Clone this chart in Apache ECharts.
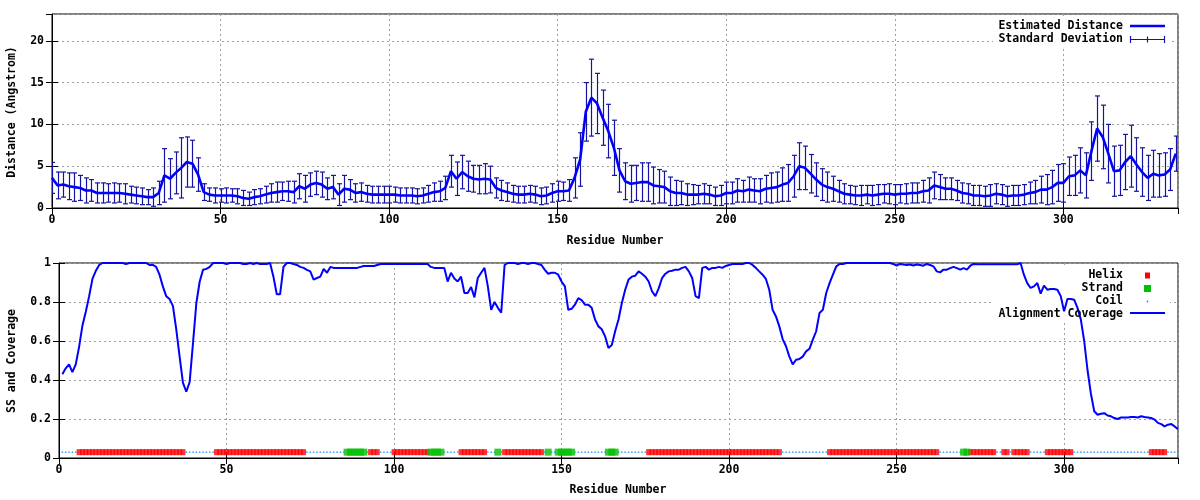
<!DOCTYPE html>
<html><head><meta charset="utf-8">
<script src="https://cdn.jsdelivr.net/npm/echarts@6/dist/echarts.min.js"></script>
<style>html,body{margin:0;padding:0;background:#fff}#c{width:1200px;height:500px}</style>
</head><body><div id="c"></div>
<script>
// ---- Top panel: estimated distance and its standard deviation (one sample every 5/3 residue) ----
const sampleStep = 5 / 3;
const distMean = [
  3.6,2.7,2.8,2.6,2.5,2.4,2.1,2.1,1.8,1.8,
  1.8,1.8,1.8,1.7,1.6,1.5,1.4,1.3,1.3,1.8,
  3.9,3.5,4.2,4.8,5.5,5.3,4.0,1.9,1.6,1.5,
  1.5,1.5,1.5,1.4,1.2,1.1,1.3,1.4,1.6,1.8,
  1.9,2.0,2.0,1.9,2.6,2.3,2.8,3.0,2.8,2.3,
  2.5,1.6,2.3,2.2,1.8,1.9,1.7,1.6,1.6,1.6,
  1.6,1.6,1.5,1.5,1.5,1.4,1.5,1.7,1.9,2.0,
  2.4,4.4,3.5,4.3,3.8,3.5,3.4,3.5,3.4,2.4,
  2.1,1.9,1.7,1.6,1.6,1.7,1.6,1.4,1.5,1.8,
  2.0,2.0,2.1,3.6,5.8,11.5,13.2,12.5,10.8,9.2,
  7.2,4.5,3.2,2.9,3.0,3.1,3.1,2.7,2.6,2.5,
  2.0,1.8,1.8,1.6,1.6,1.6,1.7,1.6,1.4,1.5,
  1.8,1.8,2.1,2.0,2.2,2.1,2.0,2.3,2.4,2.5,
  2.8,3.0,3.8,5.0,4.8,4.1,3.4,2.8,2.5,2.3,
  2.0,1.7,1.6,1.5,1.5,1.6,1.5,1.6,1.7,1.7,
  1.6,1.7,1.7,1.8,1.8,2.0,2.1,2.7,2.5,2.3,
  2.3,2.1,1.8,1.7,1.5,1.5,1.4,1.5,1.7,1.6,
  1.4,1.5,1.5,1.6,1.8,1.9,2.2,2.2,2.5,3.0,
  3.0,3.8,3.9,4.5,3.9,6.8,9.5,8.5,6.5,4.4,
  4.5,5.5,6.2,5.2,4.3,3.6,4.1,3.9,4.0,4.6,
  6.5
];
const distSD = [
  1.85,1.6,1.5,1.6,1.7,1.5,1.5,1.3,1.2,1.2,
  1.1,1.2,1.1,1.2,1.0,1.0,1.0,0.9,1.1,1.4,
  3.2,2.4,2.5,3.6,3.0,2.8,2.0,1.0,0.8,0.9,
  0.8,0.9,0.8,0.9,0.9,0.8,0.9,0.9,1.0,1.1,
  1.2,1.1,1.2,1.3,1.5,1.6,1.4,1.4,1.5,1.3,
  1.4,1.3,1.6,1.2,1.1,1.1,1.0,1.0,1.0,1.0,
  1.0,0.9,0.9,0.9,0.9,0.9,0.9,1.0,1.1,1.2,
  1.4,1.9,2.0,2.0,1.8,1.6,1.7,1.8,1.6,1.2,
  1.2,1.1,1.0,1.0,1.0,1.0,1.0,1.0,1.0,1.1,
  1.2,1.1,1.3,2.4,3.2,3.5,4.6,3.6,3.3,3.2,
  3.3,2.6,2.2,2.2,2.1,2.3,2.3,2.2,2.0,1.9,
  1.7,1.5,1.4,1.3,1.2,1.1,1.2,1.1,1.1,1.2,
  1.3,1.3,1.4,1.3,1.5,1.4,1.5,1.6,1.8,1.8,
  2.0,2.2,2.5,2.8,2.6,2.3,2.0,1.9,1.8,1.5,
  1.3,1.2,1.1,1.1,1.2,1.1,1.2,1.2,1.1,1.2,
  1.2,1.1,1.2,1.2,1.2,1.3,1.5,1.6,1.5,1.3,
  1.3,1.2,1.2,1.2,1.2,1.2,1.2,1.3,1.2,1.2,
  1.2,1.2,1.2,1.2,1.3,1.4,1.6,1.8,2.0,2.2,
  2.3,2.3,2.4,2.7,2.7,3.5,3.9,3.8,3.5,3.0,
  3.0,3.3,3.7,3.2,2.9,2.7,2.8,2.6,2.6,2.5,
  2.1
];

// ---- Bottom panel: alignment coverage per residue (residues 1..334) ----
const coverage = [
  0.43,0.46,0.48,0.44,0.48,0.57,0.68,0.75,0.83,0.92,
  0.96,0.99,1,1,1,1,1,1,1,0.995,
  1,1,1,1,1,1,0.99,0.99,0.98,0.94,
  0.88,0.83,0.815,0.78,0.66,0.52,0.385,0.34,0.39,0.59,
  0.795,0.905,0.965,0.97,0.98,1,1,1,1,0.995,
  1,1,1,1,0.995,0.995,1,0.995,1,0.995,
  0.995,0.995,1,0.93,0.84,0.84,0.98,1,1,0.995,
  0.99,0.98,0.975,0.965,0.957,0.915,0.923,0.93,0.97,0.95,
  0.98,0.975,0.975,0.975,0.975,0.975,0.975,0.975,0.975,0.98,
  0.985,0.985,0.985,0.985,0.99,0.995,0.995,0.995,0.995,0.995,
  0.995,0.995,0.995,0.995,0.995,0.995,0.995,0.995,0.995,0.995,
  0.98,0.975,0.975,0.975,0.975,0.905,0.95,0.92,0.905,0.93,
  0.846,0.846,0.877,0.824,0.923,0.95,0.975,0.88,0.76,0.80,
  0.77,0.745,0.99,1,1,1,0.995,1,1,0.995,
  1,1,0.995,0.99,0.965,0.945,0.95,0.95,0.94,0.905,
  0.88,0.76,0.765,0.786,0.82,0.81,0.786,0.786,0.77,0.71,
  0.675,0.66,0.624,0.564,0.58,0.65,0.71,0.795,0.863,0.915,
  0.93,0.935,0.957,0.945,0.93,0.905,0.855,0.83,0.87,0.923,
  0.945,0.957,0.96,0.966,0.966,0.975,0.98,0.957,0.923,0.83,
  0.82,0.975,0.98,0.966,0.975,0.975,0.98,0.975,0.985,0.99,
  0.995,0.995,0.995,0.995,1,1,0.99,0.975,0.957,0.94,
  0.918,0.863,0.76,0.726,0.675,0.61,0.573,0.52,0.48,0.504,
  0.508,0.52,0.547,0.56,0.607,0.65,0.744,0.76,0.846,0.897,
  0.94,0.983,0.995,0.995,1,1,1,1,1,1,
  1,1,1,1,1,1,1,1,0.995,0.986,
  0.995,0.992,0.99,0.992,0.987,0.992,0.99,0.986,0.995,0.99,
  0.983,0.957,0.952,0.966,0.966,0.974,0.98,0.974,0.966,0.974,
  0.966,0.986,0.995,0.993,0.993,0.993,0.993,0.993,0.993,0.993,
  0.993,0.993,0.993,0.993,0.993,0.993,1,0.94,0.897,0.872,
  0.88,0.897,0.843,0.884,0.863,0.867,0.867,0.863,0.83,0.752,
  0.815,0.815,0.812,0.77,0.71,0.6,0.45,0.33,0.24,0.222,
  0.227,0.23,0.218,0.214,0.205,0.2,0.208,0.208,0.208,0.21,
  0.21,0.208,0.214,0.21,0.208,0.205,0.197,0.18,0.174,0.162,
  0.171,0.174,0.162,0.148
];

// Secondary structure (residue ranges); everything else from ssFirst..ssLast is coil
const ssFirst = 1, ssLast = 333;
const ssLevel = 0.03;
const helixRanges = [[6,37],[47,73],[93,95],[100,110],[120,127],[133,144],[176,215],
  [230,262],[272,279],[282,283],[285,289],[295,302],[326,330]];
const strandRanges = [[86,91],[111,114],[131,131],[146,146],[149,153],[164,166],[270,271]];

// axis ranges / ticks
const xMax = 334, xTickStep = 50;
const distMax = 23.2, distTickStep = 5;
const covTickStep = 0.2;

// ---------------- build ----------------
const inRanges = (r, rs) => rs.some(([a, b]) => r >= a && r <= b);
const helixPts = [], strandPts = [], coilPts = [];
for (let r = ssFirst; r <= ssLast; r++) {
  if (inRanges(r, helixRanges)) helixPts.push([r, ssLevel]);
  else if (inRanges(r, strandRanges)) strandPts.push([r, ssLevel]);
  else coilPts.push([r, ssLevel]);
}
const distX = distMean.map((_, i) => +(i * sampleStep).toFixed(3));
const meanData = distMean.map((v, i) => [distX[i], v]);
const errData = distMean.map((v, i) => [distX[i], Math.max(0, v - distSD[i]), v + distSD[i]]);
const covData = coverage.map((v, i) => [i + 1, v]);

const FONT = '"DejaVu Sans Mono", "Liberation Mono", monospace';
const lab = { fontFamily: FONT, fontWeight: 'bold', fontSize: 11.5, color: '#000' };
const gridLine = { show: true, lineStyle: { color: '#a0a0a0', type: [2, 3], width: 1 } };
const ERR = '#1414a0', BLUE = '#0000ff';

function xAx(grid, pos, main) {
  return {
    type: 'value', gridIndex: grid, position: pos, min: 0, max: xMax, interval: xTickStep,
    axisLine: { show: main, lineStyle: { color: '#000', width: 1 } },
    axisTick: { show: true, inside: true, length: 6, lineStyle: { color: '#000' } },
    axisLabel: main ? Object.assign({ margin: 6, showMaxLabel: false }, lab) : { show: false },
    splitLine: main ? gridLine : { show: false }
  };
}
function yAx(grid, pos, main, max, step, fmt) {
  return {
    type: 'value', gridIndex: grid, position: pos, min: 0, max: max, interval: step,
    axisLine: { show: main, lineStyle: { color: '#000', width: 1 } },
    axisTick: { show: true, inside: true, length: 6, lineStyle: { color: '#000' } },
    axisLabel: main ? Object.assign({ margin: 8, formatter: fmt, showMaxLabel: max !== 1 ? false : true }, lab) : { show: false },
    splitLine: main ? gridLine : { show: false }
  };
}

function renderErr(params, api) {
  const x = api.value(0), lo = api.value(1), hi = api.value(2);
  const pLo = api.coord([x, lo]), pHi = api.coord([x, hi]);
  const cx = Math.round(pLo[0]) + 0.5, w = 2.5;
  const style = { stroke: ERR, lineWidth: 1.2 };
  return { type: 'group', children: [
    { type: 'line', shape: { x1: cx, y1: pLo[1], x2: cx, y2: pHi[1] }, style },
    { type: 'line', shape: { x1: cx - w, y1: pHi[1], x2: cx + w, y2: pHi[1] }, style },
    { type: 'line', shape: { x1: cx - w, y1: pLo[1], x2: cx + w, y2: pLo[1] }, style }
  ]};
}

const tStyle = (text, align) => ({ text, font: 'bold 11.5px ' + FONT, fill: '#000',
  align: align, textAlign: align, verticalAlign: 'middle', textVerticalAlign: 'middle' });
const txt = (text, x, y, align, rot) => ({ type: 'text', x, y, rotation: rot || 0, z: 5, style: tStyle(text, align) });
const ln = (x1, y1, x2, y2, color, w) => ({ type: 'line', z: 5, shape: { x1, y1, x2, y2 }, style: { stroke: color, lineWidth: w } });

const chart = echarts.init(document.getElementById('c'), null, { renderer: 'canvas' });
chart.setOption({
  animation: false,
  backgroundColor: '#fff',
  grid: [
    { left: 52, right: 22, top: 14, height: 194, show: true, borderColor: '#000', borderWidth: 1 },
    { left: 59, right: 22, top: 263, height: 195, show: true, borderColor: '#000', borderWidth: 1 }
  ],
  xAxis: [ xAx(0, 'bottom', true), xAx(1, 'bottom', true), xAx(0, 'top', false), xAx(1, 'top', false) ],
  yAxis: [
    yAx(0, 'left', true, distMax, distTickStep, v => String(v)),
    yAx(1, 'left', true, 1, covTickStep, v => (v === 0 ? '0' : v === 1 ? '1' : v.toFixed(1))),
    yAx(0, 'right', false, distMax, distTickStep),
    yAx(1, 'right', false, 1, covTickStep)
  ],
  series: [
    { name: 'Standard Deviation', type: 'custom', xAxisIndex: 0, yAxisIndex: 0, renderItem: renderErr,
      data: errData, encode: { x: 0, y: [1, 2] }, clip: true, z: 2 },
    { name: 'Estimated Distance', type: 'line', xAxisIndex: 0, yAxisIndex: 0, data: meanData,
      showSymbol: false, symbol: 'none', lineStyle: { color: BLUE, width: 2.6 }, z: 3 },
    { name: 'Coil', type: 'scatter', xAxisIndex: 1, yAxisIndex: 1, data: coilPts,
      symbol: 'circle', symbolSize: 1.8, itemStyle: { color: '#1e90ff' }, z: 3 },
    { name: 'Helix', type: 'scatter', xAxisIndex: 1, yAxisIndex: 1, data: helixPts,
      symbol: 'rect', symbolSize: [5, 6], itemStyle: { color: '#ff0000' }, z: 3 },
    { name: 'Strand', type: 'scatter', xAxisIndex: 1, yAxisIndex: 1, data: strandPts,
      symbol: 'rect', symbolSize: [7, 7], itemStyle: { color: '#00c000' }, z: 3 },
    { name: 'Alignment Coverage', type: 'line', xAxisIndex: 1, yAxisIndex: 1, data: covData,
      showSymbol: false, symbol: 'none', lineStyle: { color: BLUE, width: 2 }, z: 4 }
  ],
  graphic: { elements: [
    // key backgrounds (opaque over grid)
    { type: 'rect', z: 1, shape: { x: 993, y: 19, width: 177, height: 27 }, style: { fill: '#fff' } },
    { type: 'rect', z: 1, shape: { x: 993, y: 268, width: 177, height: 52 }, style: { fill: '#fff' } },
    // axis titles
    txt('Distance (Angstrom)', 12, 112, 'center', Math.PI / 2),
    txt('Residue Number', 615, 241, 'center'),
    txt('SS and Coverage', 12, 361, 'center', Math.PI / 2),
    txt('Residue Number', 618, 490, 'center'),
    // top key
    txt('Estimated Distance', 1123, 26, 'right'),
    ln(1130, 26, 1165, 26, BLUE, 2.6),
    txt('Standard Deviation', 1123, 39, 'right'),
    ln(1130, 39.5, 1165, 39.5, ERR, 1.2),
    ln(1130.5, 36, 1130.5, 43, ERR, 1.2),
    ln(1164.5, 36, 1164.5, 43, ERR, 1.2),
    ln(1147.5, 36.5, 1147.5, 42.5, ERR, 1.2),
    // bottom key
    txt('Helix', 1123, 275.5, 'right'),
    { type: 'rect', z: 5, shape: { x: 1145, y: 272.5, width: 5, height: 6 }, style: { fill: '#ff0000' } },
    txt('Strand', 1123, 288.5, 'right'),
    { type: 'rect', z: 5, shape: { x: 1144, y: 285, width: 7, height: 7 }, style: { fill: '#00c000' } },
    txt('Coil', 1123, 301.5, 'right'),
    { type: 'circle', z: 5, shape: { cx: 1147.5, cy: 301.5, r: 0.9 }, style: { fill: '#1e90ff' } },
    txt('Alignment Coverage', 1123, 314, 'right'),
    ln(1130, 313, 1165, 313, BLUE, 2)
  ]}
});
</script>
</body></html>
